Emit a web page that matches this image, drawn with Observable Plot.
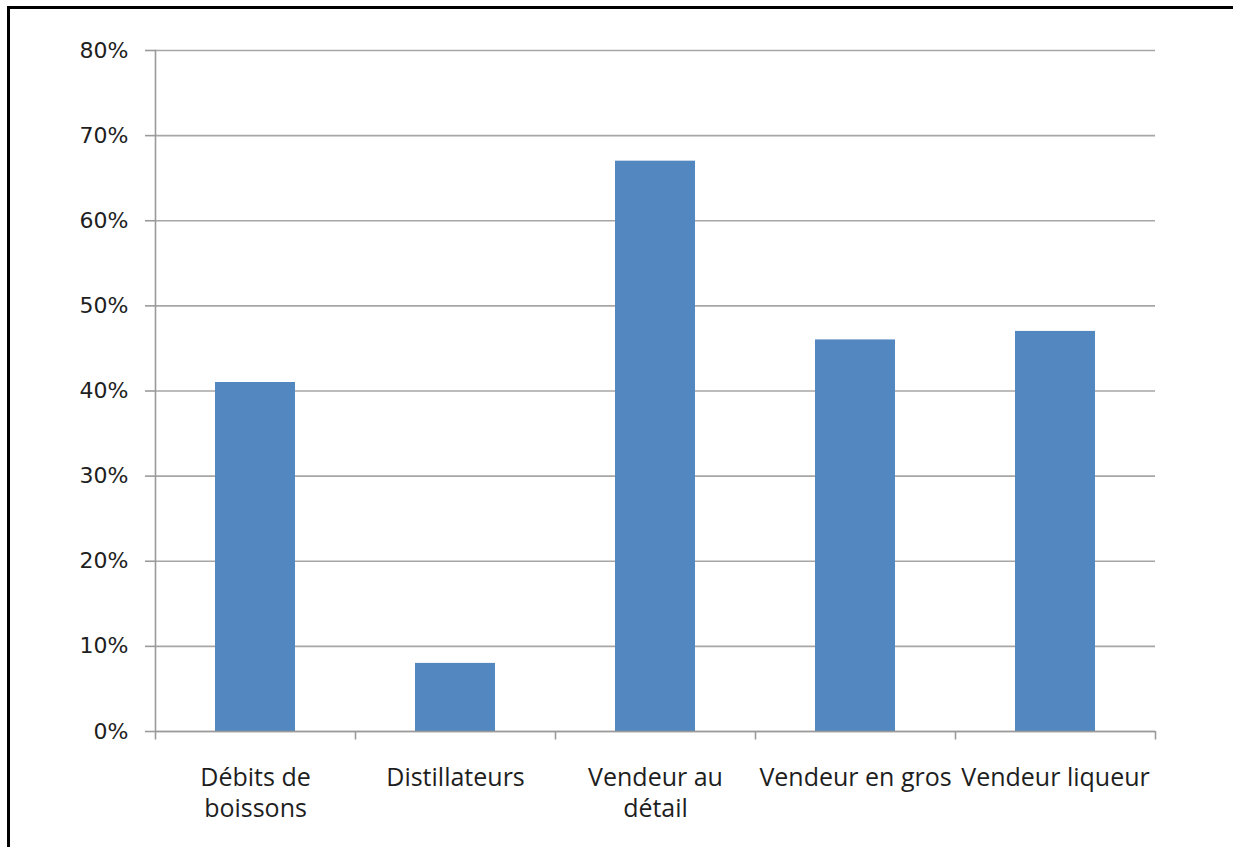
<!DOCTYPE html>
<html>
<head>
<meta charset="utf-8">
<script src="https://cdn.jsdelivr.net/npm/d3@7"></script>
<script src="https://cdn.jsdelivr.net/npm/@observablehq/plot@0.6"></script>
<style>
  html, body { margin: 0; padding: 0; background: #fff; }
  #wrap { position: relative; width: 1233px; height: 847px; overflow: hidden; }
  #border { position: absolute; left: 7px; top: 6px; right: -10px; bottom: -10px;
            border-left: 3px solid #000; border-top: 3px solid #000; pointer-events: none; }
  #chart svg { display: block; }
</style>
</head>
<body>
<div id="wrap">
  <div id="chart"></div>
  <div id="border"></div>
</div>
<script>
const categories = ["Débits de boissons", "Distillateurs", "Vendeur au détail", "Vendeur en gros", "Vendeur liqueur"];
const labels = ["Débits de\nboissons", "Distillateurs", "Vendeur au\ndétail", "Vendeur en gros", "Vendeur liqueur"];
const values = [0.41, 0.08, 0.67, 0.46, 0.47];
const yTicks = [0, 0.1, 0.2, 0.3, 0.4, 0.5, 0.6, 0.7, 0.8];

const data = categories.map((c, i) => ({cat: c, value: values[i], label: labels[i]}));
const axisGray = "#9a9a9a";
const step = 200; // band step in px (1000px plot / 5 categories)

const chart = Plot.plot({
  width: 1233,
  height: 847,
  marginLeft: 155,
  marginRight: 78,
  marginTop: 50,
  marginBottom: 116,
  x: {domain: categories, paddingInner: 0.6, paddingOuter: 0.3, axis: null},
  y: {domain: [0, 0.8], axis: null, label: null},
  style: {background: "transparent"},
  marks: [
    Plot.gridY(yTicks, {stroke: "#a6a6a6", strokeOpacity: 1, strokeWidth: 1.6}),
    Plot.axisY(yTicks, {
      label: null,
      tickFormat: d3.format(".0%"),
      tickSize: 10,
      tickPadding: 17,
      fontSize: 22,
      fontFamily: "DejaVu Sans",
      color: "#1e1e1e",
      stroke: axisGray,
      strokeWidth: 1.6
    }),
    Plot.barY(data, {x: "cat", y: "value", fill: "#5387c0"}),
    Plot.frame({anchor: "left", stroke: axisGray, strokeWidth: 1.6}),
    Plot.ruleY([0], {stroke: axisGray, strokeWidth: 1.6}),
    Plot.ruleX(categories, {x: d => d, y1: 0, y2: -0.01, dx: -step / 2, stroke: axisGray, strokeWidth: 1.6}),
    Plot.ruleX(categories.slice(-1), {x: d => d, y1: 0, y2: -0.01, dx: step / 2, stroke: axisGray, strokeWidth: 1.6}),
    Plot.text(data, {
      x: "cat",
      y: 0,
      text: "label",
      lineAnchor: "top",
      dy: 33,
      lineHeight: 1.22,
      fontSize: 25,
      fontFamily: "Open Sans",
      fill: "#1e1e1e"
    })
  ]
});
document.getElementById("chart").appendChild(chart);
</script>
</body>
</html>
